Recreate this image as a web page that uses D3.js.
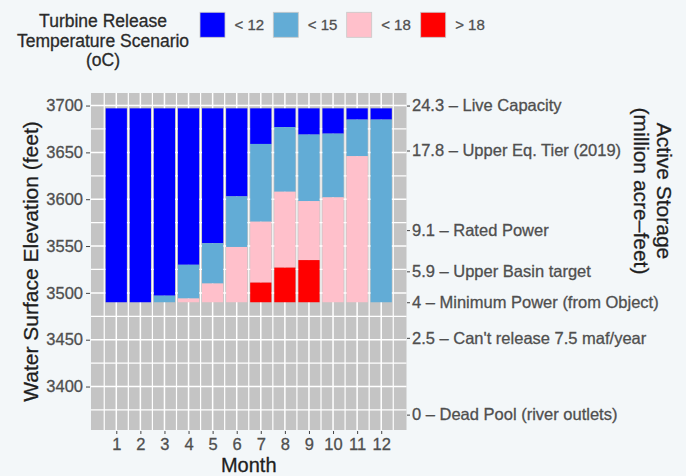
<!DOCTYPE html>
<html><head><meta charset="utf-8">
<script src="https://cdn.jsdelivr.net/npm/d3@7"></script>
<style>
body{margin:0;background:#f3f7f9;}
text{font-family:"Liberation Sans",Arial,Helvetica,sans-serif;}
</style>
</head><body>
<svg id="chart" width="686" height="476"></svg>
<script>
// ---- data ----
const months = [1,2,3,4,5,6,7,8,9,10,11,12];
const barTop = 3697;
const barBottom = 3490;
// lower edge of each temperature band (elevation, feet)
const blueLow = [3490,3490,3497,3530,3553,3603,3659,3677,3669,3670,3685,3685];
const skyLow  = [3490,3490,3490,3494,3510,3549,3576,3608,3598,3602,3646,3490];
const pinkLow = [3490,3490,3490,3490,3490,3490,3511,3527,3535,3490,3490,3490];
const scenarios = ["< 12","< 15","< 18","> 18"];
const scenarioColors = ["#0000ff","#62acd6","#ffc0cb","#ff0000"];
const elevTicks = [3400,3450,3500,3550,3600,3650,3700];
const storageElev = [3700,3652,3567,3523,3490,3452,3370];
const storageLabels = ["24.3 \u2013 Live Capacity","17.8 \u2013 Upper Eq. Tier (2019)","9.1 \u2013 Rated Power","5.9 \u2013 Upper Basin target","4 \u2013 Minimum Power (from Object)","2.5 \u2013 Can't release 7.5 maf/year","0 \u2013 Dead Pool (river outlets)"];

// ---- scales ----
const svg = d3.select("#chart");
const L = 91, R = 406.5, T = 93, B = 430;
const x = d3.scaleLinear().domain([-0.05, 13.05]).range([L, R]);
const y = d3.scaleLinear().domain([3353.6, 3713.4]).range([B, T]);
const color = d3.scaleOrdinal().domain(scenarios).range(scenarioColors);

// panel
svg.append("rect").attr("x", L).attr("y", T).attr("width", R - L).attr("height", B - T).attr("fill", "#c4c4c4");
const grid = svg.append("g");
const minorY = d3.range(3375, 3713, 50);
const minorX = d3.range(0.5, 13, 1);
grid.selectAll("line.hy").data(minorY).join("line")
  .attr("x1", L).attr("x2", R).attr("y1", d => y(d)).attr("y2", d => y(d))
  .attr("stroke", "#fff").attr("stroke-width", 1.2);
grid.selectAll("line.hx").data(minorX).join("line")
  .attr("y1", T).attr("y2", B).attr("x1", d => x(d)).attr("x2", d => x(d))
  .attr("stroke", "#fff").attr("stroke-width", 1.2);
grid.selectAll("line.my").data(elevTicks).join("line")
  .attr("x1", L).attr("x2", R).attr("y1", d => y(d)).attr("y2", d => y(d))
  .attr("stroke", "#fff").attr("stroke-width", 1.5);
grid.selectAll("line.mx").data(months).join("line")
  .attr("y1", T).attr("y2", B).attr("x1", d => x(d)).attr("x2", d => x(d))
  .attr("stroke", "#fff").attr("stroke-width", 1.5);

// bars
const segs = [];
months.forEach((m, i) => {
  const bounds = [barTop, blueLow[i], skyLow[i], pinkLow[i], barBottom];
  scenarios.forEach((s, k) => {
    if (bounds[k] > bounds[k + 1]) segs.push({m, s, hi: bounds[k], lo: bounds[k + 1]});
  });
});
const bw = 0.88;
svg.append("g").selectAll("rect").data(segs).join("rect")
  .attr("x", d => x(d.m - bw / 2)).attr("width", d => x(d.m + bw / 2) - x(d.m - bw / 2))
  .attr("y", d => y(d.hi)).attr("height", d => y(d.lo) - y(d.hi))
  .attr("fill", d => color(d.s));

// axes
const fs = "16.5px", tc = "#4f4f4f";
function style(g) {
  g.select(".domain").remove();
  g.selectAll(".tick line").attr("stroke", "#444");
  g.selectAll(".tick text").attr("fill", tc).attr("stroke", tc).attr("stroke-width", 0.3).style("font-size", fs);
}
svg.append("g").attr("transform", `translate(${L - 1},0)`)
  .call(d3.axisLeft(y).tickValues(elevTicks).tickFormat(d3.format("d")).tickSize(4).tickPadding(3)).call(style);
svg.append("g").attr("transform", `translate(${R + 0.5},0)`)
  .call(d3.axisRight(y).tickValues(storageElev).tickFormat((d, i) => storageLabels[i]).tickSize(3).tickPadding(2)).call(style);
svg.append("g").attr("transform", `translate(0,${B + 1})`)
  .call(d3.axisBottom(x).tickValues(months).tickFormat(d3.format("d")).tickSize(3).tickPadding(4)).call(style);

// axis titles
svg.append("text").attr("transform", `translate(37.5,${(T + B) / 2}) rotate(-90)`)
  .attr("text-anchor", "middle").attr("fill", "#1e1e1e").attr("stroke", "#1e1e1e").attr("stroke-width", 0.3)
  .style("font-size", "21px").text("Water Surface Elevation (feet)");
svg.append("text").attr("x", (L + R) / 2).attr("y", 472).attr("text-anchor", "middle")
  .attr("fill", "#1e1e1e").attr("stroke", "#1e1e1e").attr("stroke-width", 0.3)
  .style("font-size", "20px").text("Month");
const rt = svg.append("text").attr("transform", "translate(657,191) rotate(90)")
  .attr("text-anchor", "middle").attr("fill", "#1e1e1e").attr("stroke", "#1e1e1e").attr("stroke-width", 0.3)
  .style("font-size", "21px");
rt.append("tspan").attr("x", 0).attr("dy", 0).text("Active Storage");
rt.append("tspan").attr("x", 0).attr("dy", 23).text("(million acre\u2013feet)");

// legend
const lt = svg.append("text").attr("text-anchor", "middle").attr("fill", "#2a2a2a")
  .attr("stroke", "#2a2a2a").attr("stroke-width", 0.3).style("font-size", "17.5px");
["Turbine Release", "Temperature Scenario", "(oC)"].forEach((t, i) => {
  lt.append("tspan").attr("x", 103).attr("y", 27 + i * 19.5).text(t);
});
const keyX = [200, 273.3, 346.7, 420.7];
const lg = svg.append("g");
scenarios.forEach((s, i) => {
  lg.append("rect").attr("x", keyX[i]).attr("y", 12.3).attr("width", 25).attr("height", 25)
    .attr("fill", color(s)).attr("stroke", "#c8c8c8").attr("stroke-width", 0.8);
  lg.append("text").attr("x", keyX[i] + 34.5).attr("y", 25).attr("dy", "0.35em")
    .attr("fill", tc).attr("stroke", tc).attr("stroke-width", 0.3).style("font-size", "15px").text(s);
});
</script>
</body></html>
